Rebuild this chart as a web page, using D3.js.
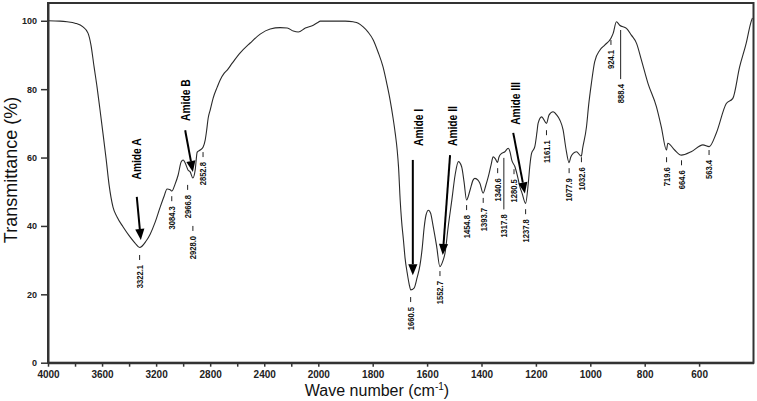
<!DOCTYPE html>
<html><head><meta charset="utf-8">
<script src="https://cdn.jsdelivr.net/npm/d3@7/dist/d3.min.js"></script>
<style>body{margin:0;background:#fff}svg{display:block}</style>
</head><body><svg id="c" width="757" height="401"></svg>
<script>
// ---- data ----
const wavenumbers = [4000,3911,3859,3800,3741,3704,3682,3659,3637,3615,3593,3570,3548,3519,3489,3444,3393,3356,3322,3274,3244,3207,3170,3141,3119,3096,3084,3059,3037,3015,3000,2985,2963,2948,2928,2911,2896,2874,2852,2837,2826,2815,2800,2778,2748,2726,2696,2674,2637,2578,2504,2430,2356,2282,2230,2185,2148,2096,2037,2000,1993,1956,1901,1872,1853,1835,1817,1798,1780,1762,1747,1736,1725,1717,1710,1705,1699,1694,1687,1681,1673,1666,1660,1648,1637,1626,1618,1611,1604,1595,1587,1578,1565,1553,1541,1534,1523,1509,1497,1485,1473,1464,1455,1442,1431,1424,1413,1406,1394,1384,1375,1365,1357,1349,1341,1336,1326,1314,1302,1295,1289,1277,1266,1259,1251,1238,1228,1222,1216,1204,1196,1192,1179,1161,1152,1137,1123,1112,1100,1090,1078,1072,1063,1051,1033,1028,1014,1006,996,984,965,947,924,916,904,892,867,849,830,812,788,757,739,720,715,690,665,629,586,563,537,500,476,451,427,409,404];
const transmittance = [100,99.9,99.7,99.3,98.2,96.4,92.9,86.5,80.6,73.9,67.0,59.6,52.0,45.5,42.6,39.7,36.8,35.0,33.7,35.6,37.6,41.1,45.5,48.7,50.8,50.6,50.2,52.3,54.9,58.7,59.3,58.4,56.3,55.8,54.0,56.3,61.6,62.2,63.1,65.1,68.0,71.5,73.9,77.4,80.6,82.7,84.7,85.6,87.6,90.6,93.5,96.1,97.6,98.0,97.9,97.0,96.7,97.9,98.7,99.6,99.9,99.9,99.9,99.7,99.3,98.2,96.7,94.4,90.8,86.5,81.2,76.8,71.5,67.0,62.2,57.2,47.6,41.7,35.9,30.6,26.2,23.0,21.3,21.8,24.8,28.6,33.5,39.4,43.2,44.6,43.7,40.0,34.1,28.1,30.0,32.1,39.4,47.6,54.9,58.8,57.3,52.8,47.6,50.5,53.4,53.9,53.4,52.5,49.6,51.9,54.4,57.8,60.2,59.6,58.6,60.1,61.2,61.7,62.7,61.6,59.3,57.3,54.0,51.5,49.6,46.6,52.5,57.8,61.2,63.2,67.5,70.0,71.9,70.0,72.4,73.4,72.4,71.0,68.1,62.8,58.5,60.1,61.2,61.7,60.4,62.8,69.0,75.4,81.7,88.0,91.4,92.9,94.9,96.3,99.7,98.7,97.8,95.8,93.4,88.5,81.7,74.9,69.0,62.2,64.2,62.2,60.7,61.7,63.7,63.2,67.1,75.8,77.3,86.5,93.4,99.7,100.8];

const xTicks = [4000,3800,3600,3400,3200,3000,2800,2600,2400,2200,2000,1800,1600,1400,1200,1000,800,600];
const xTickLabels = [4000,3600,3200,2800,2400,2000,1800,1600,1400,1200,1000,800,600];
const yTicks = [0,20,40,60,80,100];

const peakWavenumbers = [3322.1,3084.3,2966.8,2928.0,2852.8,1660.5,1552.7,1454.8,1393.7,1340.6,1317.8,1280.5,1237.8,1161.1,1077.9,1032.6,924.1,888.4,719.6,664.6,563.4];
const peakLabels = ["3322.1","3084.3","2966.8","2928.0","2852.8","1660.5","1552.7","1454.8","1393.7","1340.6","1317.8","1280.5","1237.8","1161.1","1077.9","1032.6","924.1","888.4","719.6","664.6","563.4"];
const peakLabelLevels = [31.5,48.7,52.0,40.0,61.6,19.2,26.8,46.1,48.2,56.9,46.3,56.6,44.9,68.0,56.9,60.1,94.4,84.4,60.1,59.2,62.2];
const peakLeaderTops = [null,null,null,null,null,null,null,null,null,null,59.9,null,null,null,null,null,null,97.3,null,null,null];

const amideNames = ["Amide A","Amide B","Amide I","Amide II","Amide III"];
const amideLabelWn = [3343,2985,1633,1505,1273];
const amideLabelT = [59.6,76.8,68.8,69.2,75.8];
const arrowStartWn = [3343,2985,1652.5,1515.6,1283.3];
const arrowStartT = [48.5,68.0,59.3,60.7,67.2];
const arrowEndWn = [3313,2928,1652.5,1542.4,1240.4];
const arrowEndT = [35.9,55.8,25.6,31.5,49.5];

// ---- chart ----
const svg = d3.select("#c");
const x = d3.scaleLinear().domain([4000,2000,400]).range([48,318.3,753.5]);
const y = d3.scaleLinear().domain([0,105.2]).range([362.7,3]);
const sans = "'Liberation Sans',Arial,sans-serif";

// frame
svg.append("rect").attr("x",x(4000)).attr("y",y(105.2)).attr("width",x(400)-x(4000)).attr("height",y(0)-y(105.2))
  .attr("fill","none").attr("stroke","#333").attr("stroke-width",2);

const xAxis = svg.append("g").attr("transform",`translate(0,${y(0)})`)
  .call(d3.axisBottom(x).tickValues(xTicks).tickSize(4).tickSizeOuter(0).tickPadding(4)
    .tickFormat(d => xTickLabels.includes(d) ? d : ""));
const yAxis = svg.append("g").attr("transform",`translate(${x(4000)},0)`)
  .call(d3.axisLeft(y).tickValues(yTicks).tickSize(7).tickSizeOuter(0).tickPadding(4));
[xAxis,yAxis].forEach(g=>{
  g.select(".domain").attr("stroke","#333").attr("stroke-width",2);
  g.selectAll(".tick line").attr("stroke","#333").attr("stroke-width",1.5);
  g.selectAll(".tick text").attr("fill","#222").style("font-family",sans).style("font-weight","bold");
});
xAxis.selectAll(".tick text").style("font-size","10px");
yAxis.selectAll(".tick text").style("font-size","9px");

// spectrum
const pts = wavenumbers.map((w,i)=>[w,transmittance[i]]);
svg.append("path").datum(pts)
  .attr("d", d3.line().x(d=>x(d[0])).y(d=>y(d[1])).curve(d3.curveMonotoneX))
  .attr("fill","none").attr("stroke","#2a2a2a").attr("stroke-width",1.1);

// peak labels (condensed bold text)
const pk = svg.append("g");
peakWavenumbers.forEach((w,i)=>{
  const px = x(w), top = y(peakLabelLevels[i]);
  const from = peakLeaderTops[i]==null ? top : y(peakLeaderTops[i]);
  pk.append("line").attr("x1",px).attr("x2",px).attr("y1",from).attr("y2",top+5)
    .attr("stroke","#222").attr("stroke-width",1);
  pk.append("text").attr("transform",`translate(${px},${top+10}) rotate(-90) scale(0.8,1)`)
    .attr("text-anchor","end").attr("dy","0.35em")
    .style("font-family",sans).style("font-weight","bold").style("font-size","9.5px")
    .attr("fill","#111").text(peakLabels[i]);
});

// amide arrows
const ar = svg.append("g");
amideNames.forEach((n,i)=>{
  const x1 = x(arrowStartWn[i]), y1 = y(arrowStartT[i]);
  const x2 = x(arrowEndWn[i]), y2 = y(arrowEndT[i]);
  const ang = Math.atan2(y2-y1, x2-x1), L = 11, W = 4.6;
  const bx = x2 - L*Math.cos(ang), by = y2 - L*Math.sin(ang);
  ar.append("line").attr("x1",x1).attr("y1",y1).attr("x2",bx).attr("y2",by)
    .attr("stroke","#000").attr("stroke-width",2);
  const nx = -Math.sin(ang), ny = Math.cos(ang);
  ar.append("path").attr("d",`M${x2},${y2}L${bx+nx*W},${by+ny*W}L${bx-nx*W},${by-ny*W}Z`).attr("fill","#000");
  ar.append("text").attr("transform",`translate(${x(amideLabelWn[i])},${y(amideLabelT[i])}) rotate(-90) scale(0.82,1)`)
    .attr("text-anchor","middle").attr("dy","0.35em")
    .style("font-family",sans).style("font-weight","bold").style("font-size","12.5px")
    .attr("fill","#000").text(n);
});

// titles
const xt = svg.append("text").attr("x",377).attr("y",395.5).attr("text-anchor","middle")
  .style("font-family",sans).style("font-size","16px").attr("fill","#111");
xt.append("tspan").text("Wave number (cm");
xt.append("tspan").attr("dy","-6").style("font-size","10px").text("-1");
xt.append("tspan").attr("dy","6").text(")");
svg.append("text").attr("transform","translate(17,170) rotate(-90)").attr("text-anchor","middle")
  .style("font-family",sans).style("font-size","18px").attr("fill","#111").text("Transmittance (%)");
</script></body></html>
